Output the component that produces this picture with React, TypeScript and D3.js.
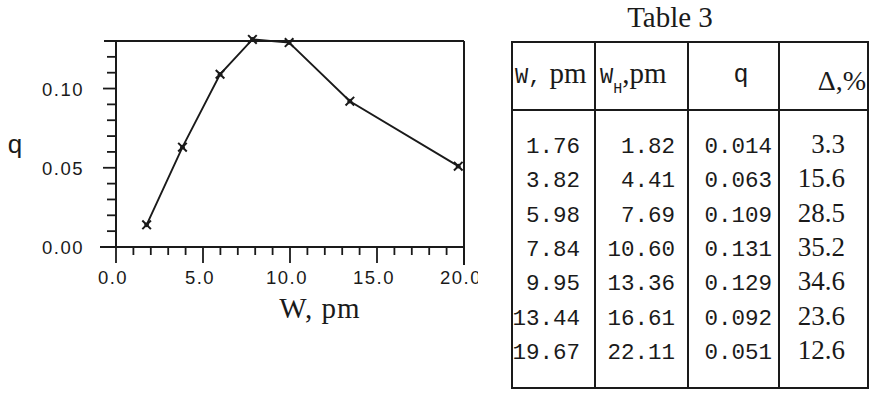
import React from "react";
import * as d3 from "d3";

const width = 881;
const height = 396;

// measured values (Table 3)
const wValues = [1.76, 3.82, 5.98, 7.84, 9.95, 13.44, 19.67];
const whValues = [1.82, 4.41, 7.69, 10.6, 13.36, 16.61, 22.11];
const qValues = [0.014, 0.063, 0.109, 0.131, 0.129, 0.092, 0.051];
const deltaValues = [3.3, 15.6, 28.5, 35.2, 34.6, 23.6, 12.6];

const xMajorTicks = [0, 5, 10, 15, 20];
const yMajorTicks = [0, 0.05, 0.1];

const ink = "#1a1a1a";
const mono = "'Liberation Mono', monospace";
const serif = "'Liberation Serif', serif";
const sans = "'Liberation Sans', sans-serif";

const xScale = d3.scaleLinear().domain([0, 20]).range([116, 464]);
const yScale = d3.scaleLinear().domain([0, 0.13]).range([247, 41]);
const rowScale = d3.scaleLinear().domain([0, 6]).range([153, 359]);

const isMajor = (v: number, list: number[]) => list.some(m => Math.abs(m - v) < 1e-9);

const points = wValues.map((w, i) => ({ w, q: qValues[i] }));

const Chart = () => {
  const line = d3
    .line<{ w: number; q: number }>()
    .x(d => xScale(d.w))
    .y(d => yScale(d.q));
  const cross = d3.symbol().type(d3.symbolX).size(50)();
  const [x0, x1] = xScale.range();
  const [yb, yt] = yScale.range();

  return (
    <g clipPath="url(#chartClip)">
      {/* frame */}
      <line x1={100} x2={x1} y1={yb} y2={yb} stroke={ink} strokeWidth={2} />
      <line x1={104} x2={x1} y1={yt} y2={yt} stroke={ink} strokeWidth={2} />
      <line x1={x0} x2={x0} y1={yt} y2={yb} stroke={ink} strokeWidth={2} />
      <line x1={x1} x2={x1} y1={yt} y2={yb + 18} stroke={ink} strokeWidth={2} />

      {/* x ticks */}
      {xScale.ticks(20).map(v => (
        <line
          key={"xt" + v}
          x1={xScale(v)}
          x2={xScale(v)}
          y1={yb}
          y2={yb + (isMajor(v, xMajorTicks) ? 16 : 8)}
          stroke={ink}
          strokeWidth={1.8}
        />
      ))}
      {xMajorTicks.map(v => (
        <text
          key={"xl" + v}
          x={xScale(v) - 3}
          y={284}
          textAnchor="middle"
          fontFamily={sans}
          fontSize={18.5}
          letterSpacing={1.5}
          fill={ink}
        >
          {v.toFixed(1)}
        </text>
      ))}

      {/* y ticks */}
      {yScale.ticks(13).map(v => (
        <line
          key={"yt" + v}
          x1={x0 - (isMajor(v, yMajorTicks) ? 13 : 9)}
          x2={x0}
          y1={yScale(v)}
          y2={yScale(v)}
          stroke={ink}
          strokeWidth={1.8}
        />
      ))}
      {yMajorTicks.map(v => (
        <text
          key={"yl" + v}
          x={84}
          y={yScale(v) + 7}
          textAnchor="end"
          fontFamily={sans}
          fontSize={18.5}
          letterSpacing={1.5}
          fill={ink}
        >
          {v.toFixed(2)}
        </text>
      ))}

      <text x={15} y={153} textAnchor="middle" fontFamily={sans} fontSize={26} fill={ink}>
        q
      </text>
      <text x={320} y={318} textAnchor="middle" fontFamily={serif} fontSize={29} letterSpacing={1} fill={ink}>
        W, pm
      </text>

      {/* data */}
      <path d={line(points) || ""} fill="none" stroke={ink} strokeWidth={1.9} />
      {points.map((p, i) => (
        <g key={"m" + i} transform={`translate(${xScale(p.w)},${yScale(p.q)})`}>
          <path d={cross || ""} fill="none" stroke={ink} strokeWidth={2} />
          <circle r={2.4} fill={ink} />
        </g>
      ))}
    </g>
  );
};

const Table = () => {
  const left = 512;
  const right = 868;
  const top = 42;
  const bottom = 388;
  const headerBottom = 110;
  const dividers = [595, 688, 779];
  const monoCols = [
    { values: wValues, digits: 2, x: 580 },
    { values: whValues, digits: 2, x: 675 },
    { values: qValues, digits: 3, x: 772 }
  ];

  return (
    <g>
      <text x={670} y={27} textAnchor="middle" fontFamily={serif} fontSize={29} fill={ink}>
        Table 3
      </text>
      <rect x={left} y={top} width={right - left} height={bottom - top} fill="none" stroke={ink} strokeWidth={2} />
      <line x1={left} x2={right} y1={headerBottom} y2={headerBottom} stroke={ink} strokeWidth={2} />
      {dividers.map(x => (
        <line key={x} x1={x} x2={x} y1={top} y2={bottom} stroke={ink} strokeWidth={2} />
      ))}

      {/* header */}
      <text x={515} y={83} fill={ink}>
        <tspan fontFamily={mono} fontSize={22}>W,</tspan>
        <tspan fontFamily={serif} fontSize={29} dx={8}>pm</tspan>
      </text>
      <text x={600} y={83} fill={ink}>
        <tspan fontFamily={mono} fontSize={22}>W</tspan>
        <tspan fontFamily={mono} fontSize={15} dy={10}>H</tspan>
        <tspan fontFamily={serif} fontSize={29} dy={-10}>,pm</tspan>
      </text>
      <text x={741} y={82} textAnchor="middle" fontFamily={mono} fontSize={25} fill={ink}>
        q
      </text>
      <text x={866} y={90} textAnchor="end" fontFamily={serif} fontSize={28} fill={ink}>
        Δ,%
      </text>

      {/* body */}
      {monoCols.map((col, c) =>
        col.values.map((v, i) => (
          <text
            key={c + "-" + i}
            x={col.x}
            y={rowScale(i)}
            textAnchor="end"
            fontFamily={mono}
            fontSize={22.5}
            fill={ink}
          >
            {v.toFixed(col.digits)}
          </text>
        ))
      )}
      {deltaValues.map((v, i) => (
        <text key={"d" + i} x={845} y={rowScale(i)} textAnchor="end" fontFamily={serif} fontSize={27} fill={ink}>
          {v.toFixed(1)}
        </text>
      ))}
    </g>
  );
};

export default function App() {
  return (
    <svg
      width={width}
      height={height}
      style={{ position: "absolute", left: 0, top: 0, background: "#fff" }}
    >
      <defs>
        <clipPath id="chartClip">
          <rect x={0} y={0} width={478} height={height} />
        </clipPath>
      </defs>
      <rect width={width} height={height} fill="#fff" />
      <Chart />
      <Table />
    </svg>
  );
}
